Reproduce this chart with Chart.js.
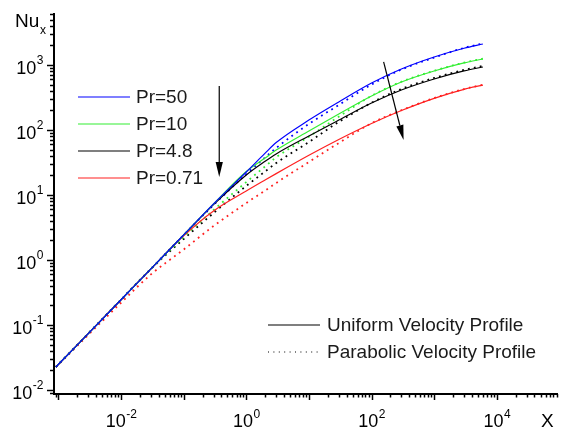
<!DOCTYPE html>
<html>
<head>
<meta charset="utf-8">
<script src="https://cdn.jsdelivr.net/npm/chart.js@4/dist/chart.umd.min.js"></script>
<style>
  html, body { margin: 0; padding: 0; background: #fff; }
  #wrap { width: 563px; height: 430px; }
</style>
</head>
<body>
<div id="wrap"><canvas id="nuChart" width="563" height="430"></canvas></div>
<script>
// Local Nusselt number vs X, uniform (solid) and parabolic (dotted) inlet profiles

const xValues = [9.1e-4, 0.01, 0.03, 0.1, 0.3, 1, 2, 3, 10, 30, 100, 300, 1000, 3000, 6000];

const uniformPr50  = [0.0226, 0.245, 0.73, 2.43, 7.3, 22.6, 44, 64, 142, 270, 528, 867, 1328, 1806, 2103];
const uniformPr10  = [0.0226, 0.245, 0.73, 2.43, 7.3, 23, 37, 49, 96.6, 176, 333, 547, 809, 1074, 1236];
const uniformPr48  = [0.0226, 0.245, 0.73, 2.43, 7.1, 20.3, 33, 42.8, 81, 142, 260, 412, 609, 809, 931];
const uniformPr071 = [0.0226, 0.245, 0.73, 2.35, 5.67, 11.5, 17, 21.3, 40.8, 71.3, 125.6, 199, 307, 422, 491];

const parabolicPr50  = [0.0226, 0.245, 0.73, 2.43, 7.0, 21, 37.8, 52.8, 124, 242, 500, 850, 1300, 1830, 2140];
const parabolicPr10  = [0.0226, 0.245, 0.73, 2.26, 5.88, 15.8, 27.5, 38, 79, 160, 335, 552, 815, 1085, 1250];
const parabolicPr48  = [0.0226, 0.245, 0.73, 2.10, 5.28, 13.8, 23, 31, 65.3, 133, 262, 427, 631, 838, 966];
const parabolicPr071 = [0.0226, 0.22, 0.6, 1.45, 3.33, 7.53, 11.7, 15.3, 32.2, 63, 127, 201, 310, 426, 496];

const prLabels = ['Pr=50', 'Pr=10', 'Pr=4.8', 'Pr=0.71'];
const prColors = ['#0000ff', '#33ee33', '#000000', '#ff2020'];
const xTickDecades = [-2, 0, 2, 4];
const yTickDecades = [-2, -1, 0, 1, 2, 3];

// arrows showing increasing Pr direction, in data units [x0, y0, x1, y1]
const arrowLeft = [0.37, 475, 0.37, 18.9];
const arrowRight = [156, 1112, 325, 70];

const FONT = '"Liberation Sans", Arial, sans-serif';

function pts(ys) {
    return xValues.map((x, i) => ({ x: x, y: ys[i] }));
}

function makeSet(label, ys, color, dotted) {
    return {
        label: label,
        data: pts(ys),
        borderColor: color,
        backgroundColor: color,
        borderWidth: dotted ? 1.8 : 1.2,
        borderDash: dotted ? [1.8, 4.2] : [],
        pointRadius: 0,
        showLine: true,
        fill: false,
        cubicInterpolationMode: 'monotone'
    };
}

function drawPower(ctx, exp, x, baseline, align, big, small, rise) {
    ctx.font = big + 'px ' + FONT;
    const w1 = ctx.measureText('10').width;
    ctx.font = small + 'px ' + FONT;
    const w2 = ctx.measureText(String(exp)).width;
    let left;
    if (align === 'center') left = x - (w1 + w2) / 2;
    else left = x - (w1 + w2);
    ctx.textAlign = 'left';
    ctx.textBaseline = 'alphabetic';
    ctx.font = big + 'px ' + FONT;
    ctx.fillText('10', left, baseline);
    ctx.font = small + 'px ' + FONT;
    ctx.fillText(String(exp), left + w1 + 0.5, baseline - rise);
}

function drawArrow(ctx, xs, ys, a) {
    const x0 = xs.getPixelForValue(a[0]), y0 = ys.getPixelForValue(a[1]);
    const x1 = xs.getPixelForValue(a[2]), y1 = ys.getPixelForValue(a[3]);
    const ang = Math.atan2(y1 - y0, x1 - x0);
    const len = 15, half = 3.6;
    const bx = x1 - len * Math.cos(ang), by = y1 - len * Math.sin(ang);
    ctx.beginPath();
    ctx.moveTo(x0, y0);
    ctx.lineTo(bx, by);
    ctx.stroke();
    ctx.beginPath();
    ctx.moveTo(x1, y1);
    ctx.lineTo(bx + half * Math.sin(ang), by - half * Math.cos(ang));
    ctx.lineTo(bx - half * Math.sin(ang), by + half * Math.cos(ang));
    ctx.closePath();
    ctx.fill();
}

const axesPlugin = {
    id: 'originAxes',
    afterDraw(chart) {
        const ctx = chart.ctx;
        const area = chart.chartArea;
        const xs = chart.scales.x, ys = chart.scales.y;
        ctx.save();
        ctx.strokeStyle = '#000';
        ctx.fillStyle = '#000';

        // axis lines
        ctx.lineWidth = 2;
        ctx.beginPath();
        ctx.moveTo(area.left, area.top);
        ctx.lineTo(area.left, area.bottom + 1);
        ctx.lineTo(area.right, area.bottom + 1);
        ctx.stroke();

        // log ticks
        ctx.lineWidth = 1.5;
        for (let d = -4; d <= 5; d++) {
            for (let m = 1; m <= 9; m++) {
                const v = m * Math.pow(10, d);
                if (v >= ys.min && v <= ys.max) {
                    const py = Math.round(ys.getPixelForValue(v)) + 0.5;
                    const len = m === 1 ? 7 : 4;
                    ctx.beginPath();
                    ctx.moveTo(area.left, py);
                    ctx.lineTo(area.left - len, py);
                    ctx.stroke();
                }
                if (v >= xs.min && v <= xs.max) {
                    const px = Math.round(xs.getPixelForValue(v)) + 0.5;
                    const len = m === 1 ? 6 : 3.5;
                    ctx.beginPath();
                    ctx.moveTo(px, area.bottom + 1);
                    ctx.lineTo(px, area.bottom + 1 + len);
                    ctx.stroke();
                }
            }
        }

        // tick labels
        yTickDecades.forEach(d => {
            const py = ys.getPixelForValue(Math.pow(10, d));
            drawPower(ctx, d, 43, py + 9, 'right', 18, 12, 10);
        });
        xTickDecades.forEach(d => {
            const px = xs.getPixelForValue(Math.pow(10, d));
            drawPower(ctx, d, px, area.bottom + 34, 'center', 18, 12, 9);
        });

        // axis titles
        ctx.textAlign = 'left';
        ctx.font = '19px ' + FONT;
        ctx.fillText('Nu', 15, 27);
        ctx.font = '12px ' + FONT;
        ctx.fillText('x', 40, 34);
        ctx.font = '19px ' + FONT;
        ctx.fillText('X', 541, 427);

        // Pr legend
        ctx.font = '19px ' + FONT;
        ctx.textBaseline = 'middle';
        const prY = [97, 124, 151, 178];
        prLabels.forEach((lab, i) => {
            ctx.strokeStyle = prColors[i];
            ctx.lineWidth = 1.2;
            ctx.beginPath();
            ctx.moveTo(78, prY[i]);
            ctx.lineTo(130, prY[i]);
            ctx.stroke();
            ctx.fillStyle = '#1a1a1a';
            ctx.fillText(lab, 136, prY[i] + 1);
        });

        // profile legend
        ctx.strokeStyle = '#000';
        ctx.lineWidth = 1.2;
        ctx.beginPath();
        ctx.moveTo(268, 325);
        ctx.lineTo(320, 325);
        ctx.stroke();
        ctx.setLineDash([1, 4.4]);
        ctx.beginPath();
        ctx.moveTo(268, 352);
        ctx.lineTo(320, 352);
        ctx.stroke();
        ctx.setLineDash([]);
        ctx.fillStyle = '#1a1a1a';
        ctx.fillText('Uniform Velocity Profile', 327, 326);
        ctx.fillText('Parabolic Velocity Profile', 327, 353);

        // arrows
        ctx.strokeStyle = '#000';
        ctx.fillStyle = '#000';
        ctx.lineWidth = 1.2;
        drawArrow(ctx, xs, ys, arrowLeft);
        drawArrow(ctx, xs, ys, arrowRight);

        ctx.restore();
    }
};

const datasets = [
    makeSet('Uniform Pr=50', uniformPr50, prColors[0], false),
    makeSet('Uniform Pr=10', uniformPr10, prColors[1], false),
    makeSet('Uniform Pr=4.8', uniformPr48, prColors[2], false),
    makeSet('Uniform Pr=0.71', uniformPr071, prColors[3], false),
    makeSet('Parabolic Pr=50', parabolicPr50, prColors[0], true),
    makeSet('Parabolic Pr=10', parabolicPr10, prColors[1], true),
    makeSet('Parabolic Pr=4.8', parabolicPr48, prColors[2], true),
    makeSet('Parabolic Pr=0.71', parabolicPr071, prColors[3], true)
];

new Chart(document.getElementById('nuChart').getContext('2d'), {
    type: 'scatter',
    data: { datasets: datasets },
    options: {
        responsive: false,
        animation: false,
        layout: { padding: { left: 54, right: 5, top: 13, bottom: 37 } },
        plugins: {
            legend: { display: false },
            tooltip: { enabled: false }
        },
        scales: {
            x: { type: 'logarithmic', min: 8.5e-4, max: 9.5e4, display: false },
            y: { type: 'logarithmic', min: 0.009, max: 6300, display: false }
        }
    },
    plugins: [axesPlugin]
});
</script>
</body>
</html>
